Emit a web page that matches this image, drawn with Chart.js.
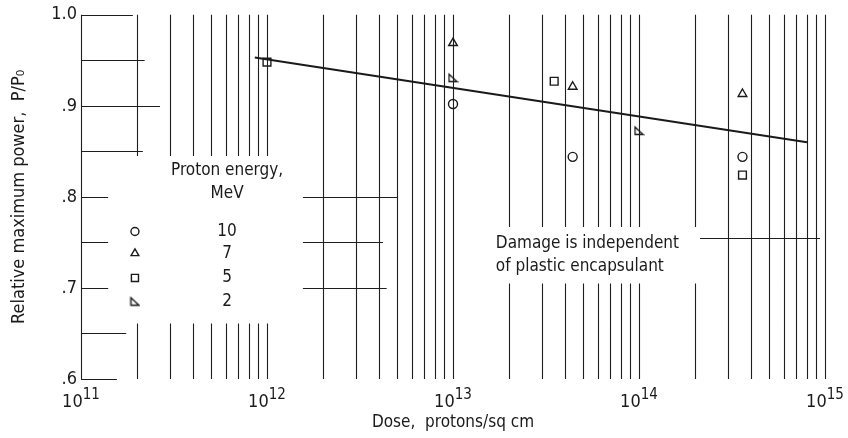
<!DOCTYPE html>
<html>
<head>
<meta charset="utf-8">
<script src="https://cdn.jsdelivr.net/npm/chart.js@4"></script>
<style>
  html, body { margin: 0; padding: 0; background: #fff; }
  #wrap { width: 848px; height: 438px; }
</style>
</head>
<body>
<div id="wrap"><canvas id="myChart" width="848" height="438"></canvas></div>
<script>
// data
var decades = [11, 12, 13, 14, 15];
var yTickLabels = [".6", ".7", ".8", ".9", "1.0"];

var dose10 = [1e13, 4.4e13, 3.6e14];
var power10 = [0.902, 0.844, 0.844];
var dose7 = [1e13, 4.4e13, 3.6e14];
var power7 = [0.969, 0.921, 0.913];
var dose5 = [1e12, 3.5e13, 3.6e14];
var power5 = [0.948, 0.927, 0.824];
var dose2 = [1e13, 1e14];
var power2 = [0.931, 0.873];
var fitDose = [8.6e11, 8e14];
var fitPower = [0.953, 0.860];

var energies = ["10", "7", "5", "2"];

var FONT = "'DejaVu Sans Condensed', 'Liberation Sans Narrow', 'DejaVu Sans', sans-serif";
var INK = "#1a1a1a";

function pts(xs, ys) {
    return xs.map(function (x, i) { return {x: x, y: ys[i]}; });
}

// right-angle triangle marker used for 2 MeV
var rightTri = document.createElement("canvas");
rightTri.width = 11;
rightTri.height = 11;
(function () {
    var c = rightTri.getContext("2d");
    c.strokeStyle = INK;
    c.lineWidth = 1.4;
    c.beginPath();
    c.moveTo(1.5, 2);
    c.lineTo(1.5, 9.5);
    c.lineTo(9.5, 9.5);
    c.closePath();
    c.stroke();
})();

var markers = [
    {pointStyle: "circle", radius: 4.5},
    {pointStyle: "triangle", radius: 5},
    {pointStyle: "rect", radius: 5.5},
    {pointStyle: rightTri, radius: 5}
];

// partial grid of the original plate: [value, from, to]
function vGrid() {
    var list = [[1e11, 0.6, 1.0]];
    for (var m = 2; m <= 10; m++) {
        list.push([m * 1e11, 0.6, 0.661]);
        list.push([m * 1e11, 0.845, 1.0]);
        list.push([m * 1e12, 0.6, 1.0]);
        list.push([m * 1e13, 0.6, 0.705]);
        list.push([m * 1e13, 0.767, 1.0]);
        if (m == 2) {
            list.push([m * 1e14, 0.6, 0.705]);
            list.push([m * 1e14, 0.767, 1.0]);
        } else {
            list.push([m * 1e14, 0.6, 1.0]);
        }
    }
    return list;
}
var hGrid = [
    [1.0, 1e11, 1.9e11], [0.95, 1e11, 2.2e11], [0.9, 1e11, 2.66e11], [0.85, 1e11, 2.15e11],
    [0.8, 1e11, 1.4e11], [0.75, 1e11, 1.4e11], [0.7, 1e11, 1.4e11], [0.65, 1e11, 1.75e11],
    [0.6, 1e11, 1.56e11],
    [0.8, 1.56e12, 5e12], [0.75, 1.56e12, 4.2e12], [0.7, 1.56e12, 4.4e12],
    [0.755, 2.13e14, 9.4e14]
];

var platePlugin = {
    id: "plate",
    beforeDatasetsDraw: function (chart) {
        var ctx = chart.ctx, xs = chart.scales.x, ys = chart.scales.y;
        ctx.save();
        ctx.strokeStyle = "#1e1e1e";
        ctx.lineWidth = 1.1;
        ctx.beginPath();
        vGrid().forEach(function (g) {
            var px = Math.round(xs.getPixelForValue(g[0])) + 0.5;
            ctx.moveTo(px, ys.getPixelForValue(g[1]));
            ctx.lineTo(px, ys.getPixelForValue(g[2]));
        });
        hGrid.forEach(function (g) {
            var py = Math.round(ys.getPixelForValue(g[0])) + 0.5;
            ctx.moveTo(xs.getPixelForValue(g[1]), py);
            ctx.lineTo(xs.getPixelForValue(g[2]), py);
        });
        ctx.stroke();
        ctx.restore();
    },
    afterDatasetsDraw: function (chart) {
        var ctx = chart.ctx, xs = chart.scales.x, ys = chart.scales.y;
        ctx.save();
        ctx.fillStyle = INK;

        // x tick labels 10^n
        decades.forEach(function (e) {
            var px = xs.getPixelForValue(Math.pow(10, e));
            ctx.font = "18px " + FONT;
            var w1 = ctx.measureText("10").width;
            ctx.font = "15px " + FONT;
            var w2 = ctx.measureText(String(e)).width;
            var x0 = px - (w1 + w2) / 2;
            ctx.textAlign = "left";
            ctx.textBaseline = "alphabetic";
            ctx.font = "18px " + FONT;
            ctx.fillText("10", x0, 407);
            ctx.font = "15px " + FONT;
            ctx.fillText(String(e), x0 + w1, 399);
        });

        // legend block
        ctx.textAlign = "center";
        ctx.textBaseline = "middle";
        ctx.font = "17px " + FONT;
        var cx = xs.getPixelForValue(6.1e11);
        ctx.fillText("Proton energy,", cx, ys.getPixelForValue(0.829));
        ctx.fillText("MeV", cx, ys.getPixelForValue(0.804));
        var mx = xs.getPixelForValue(1.95e11);
        var rows = [0.762, 0.738, 0.711, 0.6855];
        energies.forEach(function (lab, i) {
            var py = ys.getPixelForValue(rows[i]);
            ctx.fillText(lab, cx, py);
            ctx.save();
            ctx.fillStyle = "rgba(0,0,0,0)";
            ctx.strokeStyle = INK;
            ctx.lineWidth = 1.4;
            Chart.helpers.drawPoint(ctx, {pointStyle: markers[i].pointStyle, radius: markers[i].radius - 0.5, borderWidth: 1.4, rotation: 0}, mx, py);
            ctx.restore();
        });

        // note
        ctx.textAlign = "left";
        ctx.font = "17px " + FONT;
        var nx = xs.getPixelForValue(1.7e13);
        ctx.fillText("Damage is independent", nx, ys.getPixelForValue(0.749));
        ctx.fillText("of plastic encapsulant", nx, ys.getPixelForValue(0.724));
        ctx.restore();
    }
};

function pointSet(label, xs, ys, mk) {
    return {
        type: "scatter",
        label: label,
        data: pts(xs, ys),
        pointStyle: mk.pointStyle,
        pointRadius: mk.radius,
        pointBorderWidth: 1.4,
        pointBorderColor: INK,
        pointBackgroundColor: "rgba(0,0,0,0)",
        showLine: false
    };
}

new Chart("myChart", {
    type: "scatter",
    data: {
        datasets: [
            {
                type: "line",
                label: "fit",
                data: pts(fitDose, fitPower),
                borderColor: INK,
                borderWidth: 2,
                pointRadius: 0,
                fill: false
            },
            pointSet("10 MeV", dose10, power10, markers[0]),
            pointSet("7 MeV", dose7, power7, markers[1]),
            pointSet("5 MeV", dose5, power5, markers[2]),
            pointSet("2 MeV", dose2, power2, markers[3])
        ]
    },
    options: {
        responsive: false,
        animation: false,
        events: [],
        layout: {padding: {top: 14, right: 23, left: 0, bottom: 0}},
        plugins: {legend: {display: false}, tooltip: {enabled: false}},
        scales: {
            x: {
                type: "logarithmic",
                min: 1e11,
                max: 1e15,
                grid: {display: false, drawTicks: false},
                border: {display: false},
                ticks: {display: false},
                afterFit: function (s) { s.height = 59; },
                title: {
                    display: true,
                    text: "Dose,  protons/sq cm",
                    color: INK,
                    font: {family: FONT, size: 17},
                    padding: {top: 0, bottom: 5}
                }
            },
            y: {
                min: 0.6,
                max: 1.0,
                grid: {display: false, drawTicks: false},
                border: {display: false},
                ticks: {
                    stepSize: 0.1,
                    padding: 4,
                    color: INK,
                    font: {family: FONT, size: 18},
                    callback: function (v, i) { return yTickLabels[i]; }
                },
                afterFit: function (s) { s.width = 81; },
                title: {
                    display: true,
                    text: "Relative maximum power,  P/P₀",
                    color: INK,
                    font: {family: FONT, size: 18},
                    padding: {top: 9, bottom: 0}
                }
            }
        }
    },
    plugins: [platePlugin]
});
</script>
</body>
</html>
